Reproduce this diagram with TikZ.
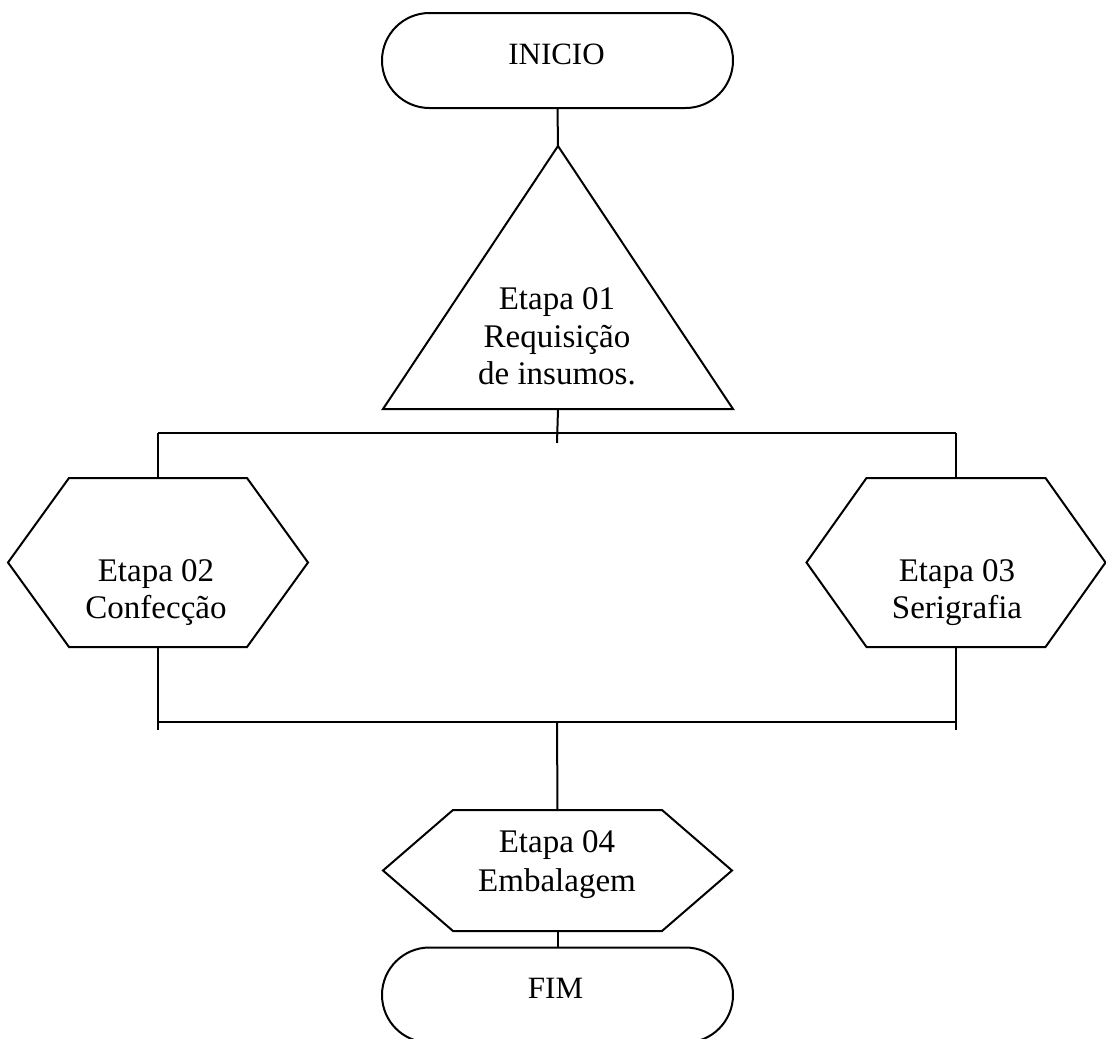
\documentclass[tikz,border=0pt]{standalone}
\usepackage{fontspec}
\setmainfont{Liberation Serif}
\usetikzlibrary{shapes.misc}
\newcommand\hexpath[2]{\draw[ln] (#1.west) -- ([xshift=#2]#1.north west) -- ([xshift=-#2]#1.north east) -- (#1.east) -- ([xshift=-#2]#1.south east) -- ([xshift=#2]#1.south west) -- cycle;}
\begin{document}
\begin{tikzpicture}[x=1pt,y=-1pt,
  ln/.style={line width=2pt, line join=miter},
  term/.style={rounded rectangle, draw, line width=2pt, minimum width=351pt, minimum height=95pt, inner sep=0pt, outer sep=0pt},
  frame/.style={rectangle, inner sep=0pt, outer sep=0pt},
  lbl/.style={font=\fontsize{33}{37}\selectfont, align=center, inner sep=0pt, outer sep=0pt},
  tlbl/.style={font=\fontsize{31}{35}\selectfont, inner sep=0pt, outer sep=0pt}]
\clip (0,0) rectangle (1106,1039);
\fill[white] (0,0) rectangle (1106,1039);
% shapes
\node[term] (inicio) at (557.5,60.5) {};
\node[frame, minimum width=350pt, minimum height=263pt] (tri) at (558,277.5) {};
\draw[ln] (tri.north) -- (tri.south east) -- (tri.south west) -- cycle;
\node[frame, minimum width=300pt, minimum height=169pt] (e2) at (158,562.5) {};
\hexpath{e2}{61pt}
\node[frame, minimum width=299pt, minimum height=169pt] (e3) at (956,562.5) {};
\hexpath{e3}{60pt}
\node[frame, minimum width=349pt, minimum height=121pt] (e4) at (557.5,870.5) {};
\hexpath{e4}{70pt}
\node[term] (fim) at (557.5,995) {};
% labels
\node[tlbl] (tInicio) at (556.5,54.8) {INICIO};
\node[lbl, font=\fontsize{33}{37.5}\selectfont] (tTri) at (557,336.4) {Etapa 01\\Requisição\\de insumos.};
\node[lbl] (tE2) at (156,593) {Etapa 02\\Confecção};
\node[lbl] (tE3) at (957,593) {Etapa 03\\Serigrafia};
\node[lbl, font=\fontsize{33}{39}\selectfont] (tE4) at (557,865) {Etapa 04\\Embalagem};
\node[tlbl] (tFim) at (555.5,988.8) {FIM};
% junction points
\coordinate (j1) at (557,433);
\coordinate (j1L) at (158,433);
\coordinate (j1R) at (956,433);
\coordinate (j1T) at (557,443);
\coordinate (j2) at (557,722);
\coordinate (j2L) at (158,722);
\coordinate (j2R) at (956,722);
\coordinate (j2LT) at (158,730);
\coordinate (j2RT) at (956,730);
% connectors
\draw[ln] (inicio.south) -- (tri.north);
\draw[ln] (tri.south) -- (j1T);
\draw[ln] (j1L) -- (j1R);
\draw[ln] (j1L) -- (e2.north);
\draw[ln] (j1R) -- (e3.north);
\draw[ln] (e2.south) -- (j2LT);
\draw[ln] (e3.south) -- (j2RT);
\draw[ln] (j2L) -- (j2R);
\draw[ln] (j2) -- (e4.north);
\draw[ln] (e4.south) -- (fim.north);
\end{tikzpicture}
\end{document}
